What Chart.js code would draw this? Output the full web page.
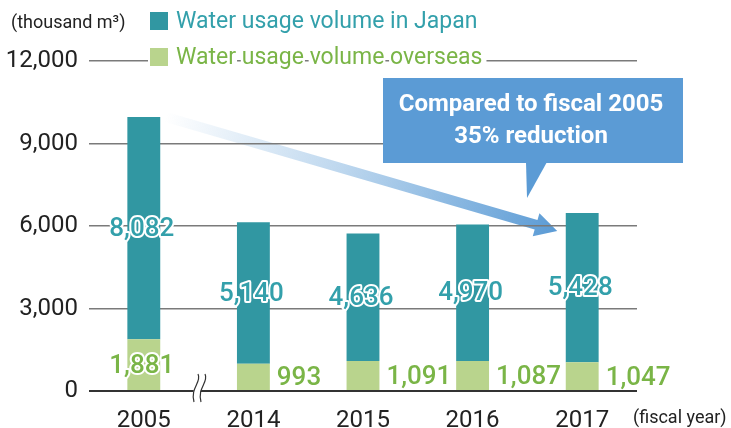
<!DOCTYPE html>
<html>
<head>
<meta charset="utf-8">
<script src="https://cdn.jsdelivr.net/npm/chart.js@4/dist/chart.umd.min.js"></script>
<style>
  html, body { margin: 0; padding: 0; background: #fff; }
  #wrap { width: 731px; height: 428px; position: relative; }
</style>
</head>
<body>
<div id="wrap"><canvas id="c" width="731" height="428"></canvas></div>
<script>
// Fiscal years on the x axis
const years = ['2005', '2014', '2015', '2016', '2017'];
// Water usage (thousand m3)
const japanVolume = [8082, 5140, 4636, 4970, 5428];
const overseasVolume = [1881, 993, 1091, 1087, 1047];
// Y axis tick values
const yTicks = [0, 3000, 6000, 9000, 12000];

const seriesNames = ['Water usage volume in Japan', 'Water usage volume overseas'];
const calloutLines = ['Compared to fiscal 2005', '35% reduction'];
const yUnit = '(thousand m\u00B3)';
const xUnit = '(fiscal year)';

const TEAL = '#3197a2';
const TEAL_TEXT = '#33a0ab';
const GREEN = '#b9d48d';
const GREEN_TEXT = '#7ab547';
const BLUE = '#5b9bd5';
const FONT = 'Roboto, "Liberation Sans", sans-serif';

const fmt = v => v.toLocaleString('en-US');
const total = i => japanVolume[i] + overseasVolume[i];

// Gradient arrow showing the reduction trend (drawn under the grid)
const trendArrow = {
  id: 'trendArrow',
  beforeDraw(chart) {
    const ctx = chart.ctx;
    const x = chart.scales.x, y = chart.scales.y;
    const i0 = 0, i1 = years.length - 1;
    const tail = { x: x.getPixelForValue(i0) + 22, y: y.getPixelForValue(total(i0)) };
    const tip = { x: x.getPixelForValue(i1) - 25, y: y.getPixelForValue(total(i1)) + 18 };
    const dx = tip.x - tail.x, dy = tip.y - tail.y;
    const len = Math.hypot(dx, dy);
    const ux = dx / len, uy = dy / len, px = -uy, py = ux;
    const sw = 5, hl = 22, hw = 12;
    const bx = tip.x - ux * hl, by = tip.y - uy * hl;
    const g = ctx.createLinearGradient(tail.x, tail.y, tip.x, tip.y);
    g.addColorStop(0, 'rgba(91,155,213,0)');
    g.addColorStop(0.45, 'rgba(91,155,213,0.4)');
    g.addColorStop(1, 'rgba(91,155,213,1)');
    ctx.save();
    ctx.fillStyle = g;
    ctx.beginPath();
    ctx.moveTo(tail.x + px * sw, tail.y + py * sw);
    ctx.lineTo(bx + px * sw, by + py * sw);
    ctx.lineTo(bx + px * hw, by + py * hw);
    ctx.lineTo(tip.x, tip.y);
    ctx.lineTo(bx - px * hw, by - py * hw);
    ctx.lineTo(bx - px * sw, by - py * sw);
    ctx.lineTo(tail.x - px * sw, tail.y - py * sw);
    ctx.closePath();
    ctx.fill();
    ctx.restore();
  }
};

// Value labels, legend, callout, axis break and units
const decorations = {
  id: 'decorations',
  afterDatasetsDraw(chart) {
    const ctx = chart.ctx;
    ctx.save();
    ctx.font = '500 26px ' + FONT;
    ctx.textBaseline = 'middle';
    ctx.lineJoin = 'round';
    ctx.lineWidth = 4;
    ctx.strokeStyle = '#fff';
    const metaO = chart.getDatasetMeta(0);
    const metaJ = chart.getDatasetMeta(1);
    metaJ.data.forEach((bar, i) => {
      const t = fmt(japanVolume[i]);
      const cy = (bar.y + bar.base) / 2 + 1;
      ctx.textAlign = 'center';
      ctx.strokeText(t, bar.x - 2, cy);
      ctx.fillStyle = TEAL_TEXT;
      ctx.fillText(t, bar.x - 2, cy);
    });
    metaO.data.forEach((bar, i) => {
      const t = fmt(overseasVolume[i]);
      const h = bar.base - bar.y;
      const cy = (bar.y + bar.base) / 2 + 2;
      ctx.fillStyle = GREEN_TEXT;
      if (h > 40) {
        ctx.textAlign = 'center';
        ctx.strokeText(t, bar.x - 2, cy);
        ctx.fillText(t, bar.x - 2, cy);
      } else {
        ctx.textAlign = 'left';
        ctx.fillText(t, bar.x + bar.width / 2 + 7, cy);
      }
    });
    ctx.restore();
  },
  afterDraw(chart) {
    const ctx = chart.ctx;
    ctx.save();

    // legend: each word on a white box so the grid line shows in the gaps
    const legend = [
      { color: TEAL, text: TEAL_TEXT, label: seriesNames[0], y: 21 },
      { color: GREEN, text: GREEN_TEXT, label: seriesNames[1], y: 57 }
    ];
    ctx.font = '23px ' + FONT;
    ctx.textBaseline = 'middle';
    ctx.textAlign = 'left';
    legend.forEach(item => {
      ctx.fillStyle = '#fff';
      ctx.fillRect(148, item.y - 11, 27, 22);
      ctx.fillStyle = item.color;
      ctx.fillRect(150, item.y - 9, 18, 18);
      let x = 176;
      const space = ctx.measureText(' ').width;
      item.label.split(' ').forEach((w, k, arr) => {
        const ww = ctx.measureText(w).width;
        ctx.fillStyle = '#fff';
        ctx.fillRect(x - (k === 0 ? 5 : 1), item.y - 12, ww + 2 + (k === 0 ? 4 : 0) + (k === arr.length - 1 ? 3 : 0), 24);
        ctx.fillStyle = item.text;
        ctx.fillText(w, x, item.y + 1);
        x += ww + space;
      });
    });

    // units
    ctx.fillStyle = '#222';
    ctx.font = '18px ' + FONT;
    ctx.fillText(yUnit, 11, 23);
    ctx.font = '18px ' + FONT;
    ctx.fillText(xUnit, 633, 418);

    // axis break between 2005 and 2014
    const by = chart.scales.y.getPixelForValue(0);
    ctx.fillStyle = '#fff';
    ctx.beginPath();
    ctx.moveTo(198, by - 16);
    ctx.bezierCurveTo(202, by - 9, 190, by - 3, 194, by + 8);
    ctx.lineTo(201, by + 8);
    ctx.bezierCurveTo(197, by - 3, 209, by - 9, 205, by - 16);
    ctx.closePath();
    ctx.fill();
    ctx.strokeStyle = '#333';
    ctx.lineWidth = 1.2;
    [0, 7].forEach(off => {
      ctx.beginPath();
      ctx.moveTo(198 + off, by - 17);
      ctx.bezierCurveTo(202 + off, by - 9, 190 + off, by - 3, 194 + off, by + 11);
      ctx.stroke();
    });

    // callout box
    ctx.fillStyle = BLUE;
    ctx.fillRect(383, 78, 300, 85);
    ctx.beginPath();
    ctx.moveTo(526, 162);
    ctx.lineTo(547, 162);
    ctx.lineTo(527, 198);
    ctx.closePath();
    ctx.fill();
    ctx.fillStyle = '#fff';
    ctx.font = 'bold 24px ' + FONT;
    ctx.textAlign = 'center';
    ctx.fillText(calloutLines[0], 531, 105);
    ctx.fillText(calloutLines[1], 531, 137);
    ctx.restore();
  }
};

new Chart(document.getElementById('c'), {
  type: 'bar',
  data: {
    labels: years,
    datasets: [
      { label: seriesNames[1], data: overseasVolume, backgroundColor: GREEN, barPercentage: 0.3, categoryPercentage: 1 },
      { label: seriesNames[0], data: japanVolume, backgroundColor: TEAL, barPercentage: 0.3, categoryPercentage: 1 }
    ]
  },
  options: {
    responsive: false,
    animation: false,
    devicePixelRatio: 1,
    layout: { padding: { top: 61, left: 0, right: 94, bottom: 0 } },
    plugins: { legend: { display: false }, tooltip: { enabled: false } },
    scales: {
      x: {
        stacked: true,
        grid: { display: false },
        border: { display: false },
        ticks: { color: '#222', font: { family: FONT, size: 24 }, padding: 8, maxRotation: 0 },
        afterFit: s => { s.height = 37; }
      },
      y: {
        stacked: true,
        min: 0,
        max: 12000,
        afterBuildTicks: s => { s.ticks = yTicks.map(v => ({ value: v })); },
        border: { display: false },
        grid: {
          drawTicks: false,
          color: c => c.tick.value === 0 ? '#333' : '#7a7a7a',
          lineWidth: c => c.tick.value === 0 ? 2 : 1.5
        },
        ticks: { color: '#222', font: { family: FONT, size: 24 }, padding: 11, callback: v => fmt(v) },
        afterFit: s => { s.width = 89; }
      }
    }
  },
  plugins: [trendArrow, decorations]
});
</script>
</body>
</html>
